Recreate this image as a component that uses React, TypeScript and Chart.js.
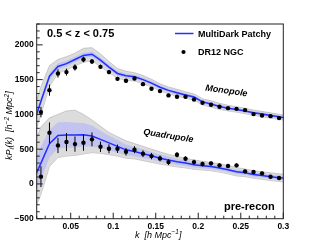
import React, { useEffect, useRef } from "react";
import { Chart, registerables } from "chart.js";
Chart.register(...registerables);

const FONT = "'Liberation Sans', Arial, Helvetica, sans-serif";

// measured data points (k bins)
const kData = [0.015, 0.025, 0.035, 0.045, 0.055, 0.065, 0.075, 0.085, 0.095, 0.105, 0.115, 0.125, 0.135, 0.145, 0.155, 0.165, 0.175, 0.185, 0.195, 0.205, 0.215, 0.225, 0.235, 0.245, 0.255, 0.265, 0.275, 0.285, 0.295];
const monoData = [1033, 1349, 1589, 1608, 1675, 1790, 1761, 1684, 1608, 1511, 1483, 1516, 1435, 1368, 1335, 1273, 1253, 1253, 1215, 1167, 1138, 1109, 1090, 1080, 1062, 1004, 985, 975, 947];
const monoErr = [75, 80, 60, 50, 45, 40, 35, 32, 30, 28, 26, 25, 24, 23, 22, 21, 20, 20, 19, 19, 18, 18, 17, 17, 17, 16, 16, 16, 16];
const quadData = [105, 735, 554, 602, 573, 592, 641, 534, 506, 506, 463, 492, 434, 400, 367, 314, 419, 362, 314, 286, 296, 267, 257, 267, 181, 171, 152, 103, 85];
const quadErr = [150, 150, 110, 130, 110, 115, 100, 75, 65, 60, 55, 50, 48, 45, 42, 40, 38, 36, 34, 32, 30, 30, 28, 28, 27, 26, 25, 25, 24];

// mock (MultiDark Patchy) curves
const kModel = [0.005, 0.015, 0.025, 0.035, 0.045, 0.055, 0.065, 0.075, 0.085, 0.095, 0.105, 0.115, 0.125, 0.135, 0.145, 0.155, 0.165, 0.175, 0.185, 0.195, 0.205, 0.215, 0.225, 0.235, 0.245, 0.255, 0.265, 0.275, 0.285, 0.295, 0.305];
const monoModel = [820, 1190, 1550, 1690, 1730, 1790, 1848, 1866, 1780, 1680, 1589, 1555, 1540, 1500, 1450, 1390, 1345, 1310, 1280, 1250, 1180, 1150, 1115, 1090, 1072, 1050, 1023, 1005, 985, 965, 945];
const monoBand = [60, 55, 50, 45, 42, 40, 40, 40, 38, 36, 34, 32, 31, 30, 29, 28, 27, 26, 25, 25, 24, 24, 23, 23, 22, 22, 22, 21, 21, 21, 21];
const monoMockHi = [1000, 1400, 1700, 1790, 1830, 1880, 1950, 1960, 1870, 1760, 1660, 1620, 1600, 1560, 1505, 1440, 1395, 1360, 1325, 1295, 1225, 1195, 1160, 1130, 1110, 1090, 1062, 1043, 1022, 1002, 982];
const monoMockLo = [600, 1000, 1400, 1590, 1640, 1700, 1750, 1770, 1690, 1600, 1520, 1490, 1480, 1440, 1395, 1340, 1295, 1262, 1235, 1205, 1135, 1105, 1070, 1050, 1032, 1010, 984, 967, 948, 928, 908];
const quadModel = [25, 300, 580, 698, 705, 705, 707, 690, 640, 590, 540, 490, 465, 435, 405, 370, 345, 318, 300, 275, 262, 250, 230, 205, 175, 160, 135, 120, 105, 90, 80];
const quadBand = [260, 240, 200, 190, 185, 180, 170, 150, 125, 105, 90, 78, 68, 62, 56, 52, 48, 45, 42, 40, 38, 36, 35, 34, 33, 32, 31, 30, 30, 30, 30];
const quadMockHi = [500, 820, 950, 1000, 1050, 1060, 1000, 920, 830, 740, 680, 620, 580, 540, 500, 460, 425, 395, 370, 345, 325, 310, 290, 265, 235, 215, 190, 175, 160, 145, 135];
const quadMockLo = [-450, -150, 250, 380, 400, 410, 430, 450, 440, 420, 400, 370, 360, 335, 310, 285, 265, 245, 230, 210, 200, 190, 170, 145, 115, 105, 80, 65, 50, 35, 25];

// axes
const xTicks = [0.05, 0.1, 0.15, 0.2, 0.25, 0.3];
const xTickLabels = ["0.05", "0.1", "0.15", "0.2", "0.25", "0.3"];
const yTicks = [-500, 0, 500, 1000, 1500, 2000];
const yTickLabels = ["\u2212500", "0", "500", "1000", "1500", "2000"];
const X_MIN = 0.01, X_MAX = 0.3, Y_MIN = -500, Y_MAX = 2300;

const BLUE = "#2030ff";
const pts = (ks: number[], vs: number[]) => ks.map((k, i) => ({ x: k, y: vs[i] }));

const overlay = {
  id: "overlay",
  afterDatasetsDraw(chart: any) {
    const { ctx, chartArea: a, scales } = chart;
    const x = scales.x, y = scales.y;
    ctx.save();
    ctx.beginPath();
    ctx.rect(a.left, a.top, a.right - a.left, a.bottom - a.top);
    ctx.clip();
    ctx.strokeStyle = "#000";
    ctx.lineWidth = 1;
    const bars = (vals: number[], errs: number[]) => {
      kData.forEach((k, i) => {
        const px = x.getPixelForValue(k);
        ctx.beginPath();
        ctx.moveTo(px, y.getPixelForValue(vals[i] - errs[i]));
        ctx.lineTo(px, y.getPixelForValue(vals[i] + errs[i]));
        ctx.stroke();
      });
    };
    bars(monoData, monoErr);
    bars(quadData, quadErr);
    ctx.restore();
  },
  afterDraw(chart: any) {
    const { ctx, chartArea: a, scales } = chart;
    const x = scales.x, y = scales.y;
    ctx.save();
    // frame
    ctx.strokeStyle = "#222";
    ctx.lineWidth = 1;
    ctx.strokeRect(a.left, a.top, a.right - a.left, a.bottom - a.top);
    // ticks (inward)
    ctx.beginPath();
    for (let i = -5; i <= 23; i++) {
      const v = i * 100;
      const py = y.getPixelForValue(v);
      const len = i % 5 === 0 ? 6 : 3;
      ctx.moveTo(a.left, py);
      ctx.lineTo(a.left + len, py);
    }
    for (let i = 1; i <= 30; i++) {
      const px = x.getPixelForValue(i / 100);
      const len = i % 5 === 0 ? 6 : 3;
      ctx.moveTo(px, a.bottom);
      ctx.lineTo(px, a.bottom - len);
    }
    ctx.stroke();

    ctx.fillStyle = "#000";
    ctx.textBaseline = "alphabetic";
    ctx.textAlign = "left";
    // redshift label
    ctx.font = `bold 11px ${FONT}`;
    ctx.fillText("0.5 < z < 0.75", 47, 36.5);
    // pre-recon
    ctx.fillText("pre-recon", 224, 209.5);

    // legend
    ctx.strokeStyle = BLUE;
    ctx.lineWidth = 1.5;
    ctx.beginPath();
    ctx.moveTo(175, 33.5);
    ctx.lineTo(193.5, 33.5);
    ctx.stroke();
    ctx.beginPath();
    ctx.arc(183.5, 52, 2.1, 0, Math.PI * 2);
    ctx.fill();
    ctx.font = `bold 9px ${FONT}`;
    ctx.textBaseline = "middle";
    ctx.fillText("MultiDark Patchy", 198, 34.5);
    ctx.fillText("DR12 NGC", 198, 52.5);

    // rotated multipole labels
    ctx.textBaseline = "alphabetic";
    ctx.font = `italic bold 9px ${FONT}`;
    ctx.save();
    ctx.translate(205, 90.5);
    ctx.rotate((8 * Math.PI) / 180);
    ctx.fillText("Monopole", 0, 0);
    ctx.restore();
    ctx.save();
    ctx.translate(143, 134.5);
    ctx.rotate((9 * Math.PI) / 180);
    ctx.fillText("Quadrupole", 0, 0);
    ctx.restore();

    // x axis title
    const seq = (parts: [string, number, number][], x0: number, y0: number) => {
      let cx = x0;
      for (const [t, size, dy] of parts) {
        ctx.font = `italic ${size}px ${FONT}`;
        ctx.fillText(t, cx, y0 + dy);
        cx += ctx.measureText(t).width;
      }
    };
    seq([["k  [h Mpc", 9, 0], ["\u22121", 6.5, -3.5], ["]", 9, 0]], 135, 237.5);

    // y axis title
    ctx.save();
    ctx.translate(12, 160);
    ctx.rotate(-Math.PI / 2);
    seq([["kP", 9, 0], ["\u2113", 6.5, 2], ["(k)  [h", 9, 0], ["\u22122", 6.5, -3.5], [" Mpc", 9, 0], ["2", 6.5, -3.5], ["]", 9, 0]], 0, 0);
    ctx.restore();
    ctx.restore();
  },
};

export default function App() {
  const ref = useRef<HTMLCanvasElement>(null);
  useEffect(() => {
    document.body.style.margin = "0";
    const monoHi = monoModel.map((v, i) => v + monoBand[i]);
    const monoLo = monoModel.map((v, i) => v - monoBand[i]);
    const quadHi = quadModel.map((v, i) => v + quadBand[i]);
    const quadLo = quadModel.map((v, i) => v - quadBand[i]);
    const mockStyle = {
      borderColor: "rgba(175,175,175,0.9)",
      borderWidth: 0.7,
      backgroundColor: "rgba(205,205,205,0.7)",
      pointRadius: 0,
      order: 4,
    };
    const bandStyle = {
      borderColor: "rgba(0,0,0,0)",
      borderWidth: 0,
      backgroundColor: "rgba(180,180,255,0.6)",
      pointRadius: 0,
      order: 3,
    };
    const chart = new Chart(ref.current!, {
      type: "line",
      data: {
        datasets: [
          { ...mockStyle, data: pts(kModel, monoMockHi), fill: "+1" },
          { ...mockStyle, data: pts(kModel, monoMockLo), fill: false },
          { ...mockStyle, data: pts(kModel, quadMockHi), fill: "+1" },
          { ...mockStyle, data: pts(kModel, quadMockLo), fill: false },
          { ...bandStyle, data: pts(kModel, monoHi), fill: "+1" },
          { ...bandStyle, data: pts(kModel, monoLo), fill: false },
          { ...bandStyle, data: pts(kModel, quadHi), fill: "+1" },
          { ...bandStyle, data: pts(kModel, quadLo), fill: false },
          { data: pts(kModel, monoModel), borderColor: BLUE, borderWidth: 1.5, pointRadius: 0, fill: false, order: 2 },
          { data: pts(kModel, quadModel), borderColor: BLUE, borderWidth: 1.5, pointRadius: 0, fill: false, order: 2 },
          { data: pts(kData, monoData), showLine: false, pointRadius: 2.2, pointBackgroundColor: "#000", pointBorderWidth: 0, borderColor: "#000", order: 1 },
          { data: pts(kData, quadData), showLine: false, pointRadius: 2.2, pointBackgroundColor: "#000", pointBorderWidth: 0, borderColor: "#000", order: 1 },
        ],
      } as any,
      options: {
        responsive: false,
        animation: false,
        devicePixelRatio: 1,
        events: [],
        layout: { padding: { left: 0, top: 24, right: 32.7, bottom: 0 } },
        plugins: { legend: { display: false }, tooltip: { enabled: false } },
        scales: {
          x: {
            type: "linear",
            min: X_MIN,
            max: X_MAX,
            grid: { display: false, drawTicks: false },
            border: { display: false },
            ticks: {
              color: "#000",
              padding: 3,
              maxRotation: 0,
              autoSkip: false,
              font: { family: FONT, size: 8.5, weight: "bold" },
              callback: (_v: any, i: number) => xTickLabels[i],
            },
            afterBuildTicks: (s: any) => {
              s.ticks = xTicks.map((v) => ({ value: v }));
            },
            afterFit: (s: any) => {
              s.height = 24.3;
            },
          },
          y: {
            type: "linear",
            min: Y_MIN,
            max: Y_MAX,
            grid: { display: false, drawTicks: false },
            border: { display: false },
            ticks: {
              color: "#000",
              padding: 3,
              autoSkip: false,
              font: { family: FONT, size: 8.5, weight: "bold" },
              callback: (_v: any, i: number) => yTickLabels[i],
            },
            afterBuildTicks: (s: any) => {
              s.ticks = yTicks.map((v) => ({ value: v }));
            },
            afterFit: (s: any) => {
              s.width = 36.7;
            },
          },
        },
      } as any,
      plugins: [overlay],
    });
    return () => chart.destroy();
  }, []);
  return <canvas ref={ref} width={316} height={243} style={{ display: "block", width: 316, height: 243 }} />;
}
